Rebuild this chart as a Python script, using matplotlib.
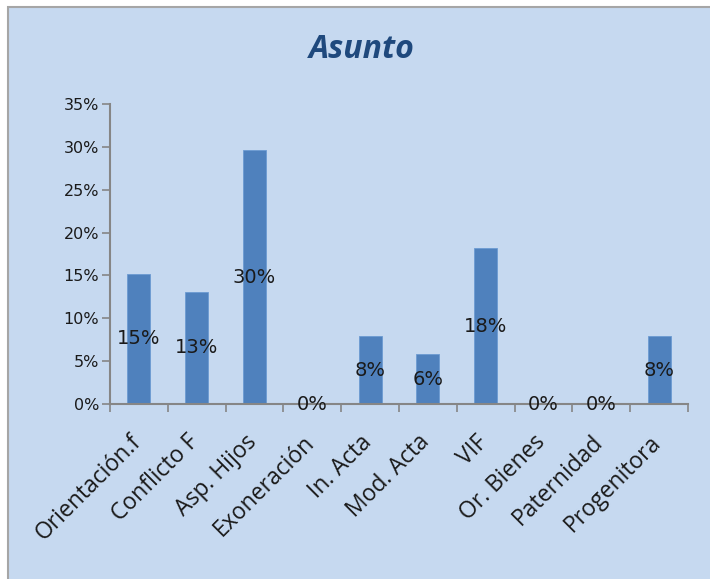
import matplotlib
matplotlib.use("Agg")
import matplotlib.pyplot as plt
import matplotlib.transforms as mtransforms
from matplotlib.patches import Rectangle
from matplotlib.ticker import FuncFormatter, FixedLocator
import numpy as np

# ── data ─────────────────────────────────
categories = ["Orientación.f", "Conflicto F", "Asp. Hijos", "Exoneración",
              "In. Acta", "Mod. Acta", "VIF", "Or. Bienes", "Paternidad",
              "Progenitora"]
values = [15.2, 13.1, 29.6, 0.0, 7.9, 5.8, 18.2, 0.0, 0.0, 7.9]
y_ticks = [0, 5, 10, 15, 20, 25, 30, 35]

# ── styles ───────────────────────────────
BG = "#C6D9F0"
BAR = "#4F81BD"
AXIS = "#868686"
TITLE = "#1F497D"

fig = plt.figure(figsize=(7.1, 5.79), dpi=100, facecolor="white")

# chart frame (extends past right / bottom edges like the source)
fig.patches.append(Rectangle((8 / 710, -0.05), 1.0, 1 - 7 / 579 + 0.05,
                             transform=fig.transFigure, facecolor=BG,
                             edgecolor="#A6A6A6", linewidth=1.5, zorder=-5))

ax = fig.add_axes([110 / 710, 1 - 404 / 579, 578 / 710, 300 / 579])
ax.set_facecolor("none")

x = np.arange(len(categories))
ax.bar(x, values, width=0.4, color=BAR, edgecolor="#6C9BD2", linewidth=0.6,
       zorder=2)

for xi, v in zip(x, values):
    ax.text(xi, v / 2, f"{round(v)}%", ha="center", va="center",
            fontsize=14, color="#1A1A1A", family="DejaVu Sans", zorder=3)

ax.set_xlim(-0.5, len(categories) - 0.5)
ax.set_ylim(0, 35)

ax.set_yticks(y_ticks)
ax.yaxis.set_major_formatter(FuncFormatter(lambda v, _: f"{v:.0f}%"))
ax.tick_params(axis="y", length=6, width=1.2, color=AXIS, labelsize=11.5,
               labelcolor="#1A1A1A", pad=2)

ax.set_xticks(x)
ax.set_xticklabels(categories, rotation=45, ha="right",
                   rotation_mode="anchor", fontsize=16.5, family="Open Sans",
                   color="#1A1A1A")
ax.tick_params(axis="x", which="major", length=0, pad=19)
ax.xaxis.set_minor_locator(FixedLocator(np.arange(-0.5, len(categories), 1)))
ax.tick_params(axis="x", which="minor", length=6, width=1.2, color=AXIS)

# nudge rotated labels left so their ends sit under the category centre
shift = mtransforms.ScaledTranslation(-10 / 100, 0, fig.dpi_scale_trans)
for lbl in ax.get_xticklabels():
    lbl.set_transform(lbl.get_transform() + shift)

for side in ["top", "right"]:
    ax.spines[side].set_visible(False)
for side in ["left", "bottom"]:
    ax.spines[side].set_color(AXIS)
    ax.spines[side].set_linewidth(1.5)

fig.text(362 / 710, 1 - 50 / 579, "Asunto", ha="center", va="center",
         fontsize=23, fontweight="bold", fontstyle="italic",
         family="Open Sans", color=TITLE)

fig.savefig("out.png", dpi=100, facecolor="white")
